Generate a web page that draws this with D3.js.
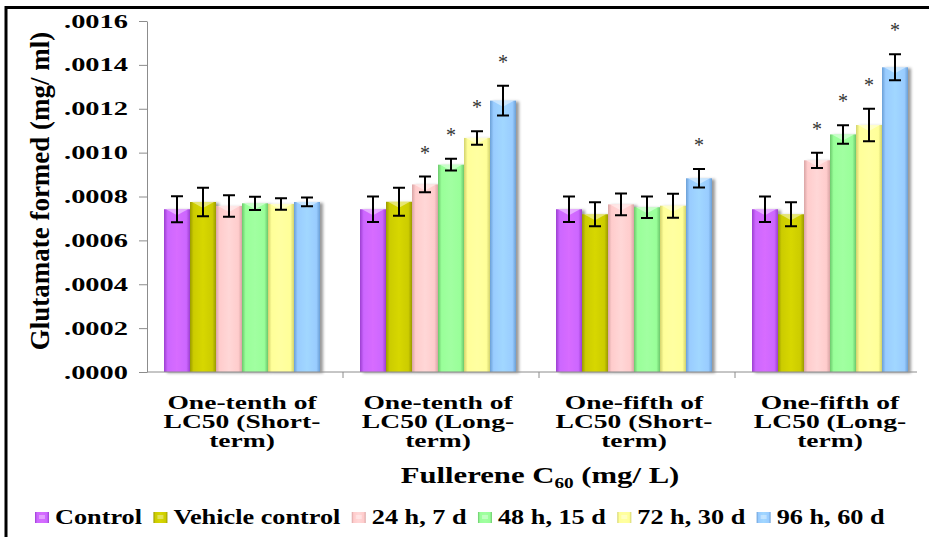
<!DOCTYPE html>
<html>
<head>
<meta charset="utf-8">
<script src="https://cdn.jsdelivr.net/npm/d3@7"></script>
</head>
<body style="margin:0">
<svg id="chart" width="929" height="537"></svg>
<script>
// Treatment groups (x categories) and their wrapped labels
const categories = ["tenth-short", "tenth-long", "fifth-short", "fifth-long"];
const categoryLines = [
  ["One-tenth of", "LC50 (Short-", "term)"],
  ["One-tenth of", "LC50 (Long-", "term)"],
  ["One-fifth of", "LC50 (Short-", "term)"],
  ["One-fifth of", "LC50 (Long-", "term)"]
];

// Exposure series
const seriesNames = ["Control", "Vehicle control", "24 h, 7 d", "48 h, 15 d", "72 h, 30 d", "96 h, 60 d"];

// Glutamate formed (mg/ml), one value per category
const controlValues = [0.000742, 0.000742, 0.000742, 0.000742];
const vehicleValues = [0.000775, 0.000776, 0.000719, 0.000719];
const h24Values     = [0.000757, 0.000855, 0.000764, 0.000965];
const h48Values     = [0.000769, 0.000945, 0.000751, 0.001083];
const h72Values     = [0.000766, 0.001067, 0.000758, 0.001126];
const h96Values     = [0.000775, 0.001237, 0.000883, 0.001389];

// Standard errors
const controlErr = [0.000059, 0.000058, 0.000058, 0.000058];
const vehicleErr = [0.000065, 0.000064, 0.000055, 0.000055];
const h24Err     = [0.000049, 0.000036, 0.000050, 0.000035];
const h48Err     = [0.000030, 0.000027, 0.000049, 0.000042];
const h72Err     = [0.000026, 0.000031, 0.000055, 0.000074];
const h96Err     = [0.000020, 0.000068, 0.000042, 0.000059];

// Significance markers (1 = starred)
const controlSig = [0, 0, 0, 0];
const vehicleSig = [0, 0, 0, 0];
const h24Sig     = [0, 1, 0, 1];
const h48Sig     = [0, 1, 0, 1];
const h72Sig     = [0, 1, 0, 1];
const h96Sig     = [0, 1, 1, 1];

// Axis ticks
const yTicks = [0, 0.0002, 0.0004, 0.0006, 0.0008, 0.0010, 0.0012, 0.0014, 0.0016];

const seriesValues = [controlValues, vehicleValues, h24Values, h48Values, h72Values, h96Values];
const seriesErrors = [controlErr, vehicleErr, h24Err, h48Err, h72Err, h96Err];
const seriesSig = [controlSig, vehicleSig, h24Sig, h48Sig, h72Sig, h96Sig];

// Fill colours: face and darker edge for the bevelled look
const faceColors = ["#cc66ff", "#cccc00", "#ffcccc", "#99ff99", "#ffff99", "#99ccff"];
const edgeColors = ["#9b3fd0", "#9a9a00", "#d9a5a5", "#6cc86c", "#d2d26c", "#6b9fd6"];

const svg = d3.select("#chart");

// apply the chart's serif bold face to a text selection
function serif(sel, size) {
  return sel.style("font-family", '"Liberation Serif"').style("font-weight", "bold")
    .style("font-size", size + "px").attr("fill", "#000");
}

// Frame lines
svg.append("line").attr("x1", 5).attr("x2", 929).attr("y1", 7.5).attr("y2", 7.5)
  .attr("stroke", "#000").attr("stroke-width", 3);
svg.append("line").attr("x1", 6).attr("x2", 6).attr("y1", 6).attr("y2", 537)
  .attr("stroke", "#000").attr("stroke-width", 3);

// Scales
const x0 = d3.scaleBand().domain(categories).range([147, 931]);
const x1 = d3.scaleBand().domain(seriesNames).range([17, 173]);
const y = d3.scaleLinear().domain([0, 0.0016]).range([372, 21]);
const color = d3.scaleOrdinal().domain(seriesNames).range(faceColors);
const edge = d3.scaleOrdinal().domain(seriesNames).range(edgeColors);

// Defs: gradients and shadow
const defs = svg.append("defs");
seriesNames.forEach((s, i) => {
  const g = defs.append("linearGradient").attr("id", "grad" + i)
    .attr("x1", "0%").attr("x2", "100%").attr("y1", "0%").attr("y2", "0%");
  g.append("stop").attr("offset", "0%").attr("stop-color", edge(s));
  g.append("stop").attr("offset", "14%").attr("stop-color", color(s));
  g.append("stop").attr("offset", "50%").attr("stop-color", d3.color(color(s)).brighter(0.15).formatHex());
  g.append("stop").attr("offset", "86%").attr("stop-color", color(s));
  g.append("stop").attr("offset", "100%").attr("stop-color", edge(s));
});
const f = defs.append("filter").attr("id", "shadow")
  .attr("x", "-30%").attr("y", "-10%").attr("width", "170%").attr("height", "130%");
f.append("feDropShadow").attr("dx", 3).attr("dy", 1).attr("stdDeviation", 1.6)
  .attr("flood-color", "#000").attr("flood-opacity", 0.4);

// Y axis
const yAxis = svg.append("g").attr("transform", "translate(147,0)")
  .call(d3.axisLeft(y).tickValues(yTicks).tickSize(8).tickSizeOuter(0)
    .tickFormat(d => d3.format(".4f")(d).replace(/^0/, "")));
yAxis.attr("font-family", null).attr("font-size", null);
yAxis.select(".domain").attr("stroke", "#8c8c8c");
yAxis.selectAll(".tick line").attr("stroke", "#8c8c8c");
serif(yAxis.selectAll(".tick text"), 18)
  .attr("x", 0).attr("dy", "0.34em")
  .attr("transform", "translate(-19,0) scale(1.58,1)");

// Bars
const groups = svg.append("g").selectAll("g")
  .data(categories).join("g")
  .attr("transform", c => `translate(${x0(c)},0)`);

const barData = (c, ci) => seriesNames.map((s, si) => ({
  s, si, ci,
  v: seriesValues[si][ci],
  e: seriesErrors[si][ci],
  sig: seriesSig[si][ci]
}));

groups.each(function (c, ci) {
  const g = d3.select(this);
  const data = barData(c, ci);
  const bw = x1.bandwidth();
  g.selectAll("rect.bar").data(data).join("rect")
    .attr("class", "bar")
    .attr("x", d => x1(d.s)).attr("width", bw)
    .attr("y", d => y(d.v)).attr("height", d => y(0) - y(d.v))
    .attr("fill", d => `url(#grad${d.si})`)
    .attr("filter", "url(#shadow)");
  // top highlight wedge
  g.selectAll("polygon.hl").data(data).join("polygon")
    .attr("class", "hl")
    .attr("points", d => {
      const xl = x1(d.s) + 2, xr = x1(d.s) + bw - 2, t = y(d.v);
      return `${xl},${t} ${xr},${t} ${(xl + xr) / 2},${t + 6}`;
    })
    .attr("fill", "#fff").attr("opacity", 0.45);
  // error bars
  g.selectAll("path.err").data(data).join("path")
    .attr("class", "err")
    .attr("d", d => {
      const cx = x1(d.s) + bw / 2, t = y(d.v + d.e), b = y(d.v - d.e);
      return `M${cx - 6},${t}H${cx + 6}M${cx},${t}V${b}M${cx - 6},${b}H${cx + 6}`;
    })
    .attr("stroke", "#000").attr("stroke-width", 2).attr("fill", "none");
  // significance stars
  serif(g.selectAll("text.star").data(data.filter(d => d.sig)).join("text"), 20)
    .attr("class", "star")
    .attr("x", d => x1(d.s) + bw / 2)
    .attr("y", d => y(d.v + d.e) - 17)
    .attr("text-anchor", "middle")
    .style("font-weight", "normal")
    .attr("fill", "#333").text("*");
});

// X baseline and group dividers
svg.append("line").attr("x1", 147).attr("x2", 917).attr("y1", y(0)).attr("y2", y(0))
  .attr("stroke", "#8c8c8c");
svg.append("g").selectAll("line").data(categories.slice(1)).join("line")
  .attr("x1", c => x0(c)).attr("x2", c => x0(c))
  .attr("y1", y(0)).attr("y2", y(0) + 6)
  .attr("stroke", "#8c8c8c");

// Category labels: one text per group, lines as tspans
svg.append("g").selectAll("text").data(categories).join("text")
  .call(sel => serif(sel, 19))
  .attr("transform", c => {
    const cx = x0(c) + x1.range()[0] + (x1.range()[1] - x1.range()[0]) / 2;
    return `translate(${cx},409) scale(1.45,1)`;
  })
  .attr("text-anchor", "middle")
  .each(function (c, ci) {
    categoryLines[ci].forEach((line, li) => {
      d3.select(this).append("tspan")
        .attr("x", 0).attr("dy", li === 0 ? 0 : 19)
        .text(line);
    });
  });

// Axis titles
serif(svg.append("text"), 27)
  .attr("transform", "translate(49,191) rotate(-90)")
  .attr("text-anchor", "middle")
  .text("Glutamate formed (mg/ ml)");

const xt = serif(svg.append("text"), 24)
  .attr("transform", "translate(540,483) scale(1.28,1)")
  .attr("text-anchor", "middle");
xt.append("tspan").text("Fullerene C");
xt.append("tspan").attr("dy", 5).style("font-size", "15px").text("60");
xt.append("tspan").attr("dy", -5).text(" (mg/ L)");

// Legend
const legendSx = 1.25;
const legend = svg.append("g").attr("transform", "translate(35,0)");
let lx = 0;
seriesNames.forEach((s, i) => {
  const item = legend.append("g").attr("transform", `translate(${lx},0)`);
  item.append("rect").attr("x", 0).attr("y", 512).attr("width", 14).attr("height", 11)
    .attr("fill", `url(#grad${i})`);
  item.append("rect").attr("x", 4).attr("y", 515).attr("width", 6).attr("height", 4)
    .attr("fill", "#fff").attr("opacity", 0.35);
  const t = serif(item.append("text"), 21)
    .attr("transform", `translate(20,524) scale(${legendSx},1)`)
    .text(s);
  lx += 20 + t.node().getComputedTextLength() * legendSx + 11.4;
});
</script>
</body>
</html>
